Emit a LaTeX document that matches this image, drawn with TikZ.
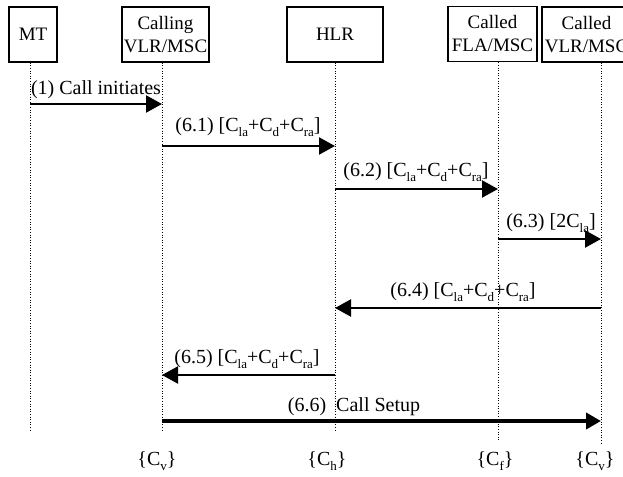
\documentclass[tikz,border=0pt]{standalone}
\usepackage{fontspec}
\setmainfont{Liberation Serif}
\usetikzlibrary{arrows.meta}
% small lowered subscript for cost terms
\newcommand\sbs[1]{\raisebox{-0.22em}{\fontsize{13}{13}\selectfont #1}}
\begin{document}
\begin{tikzpicture}[x=1pt,y=-1pt,
  font=\fontsize{19}{23}\selectfont,
  entity/.style={draw,line width=1.8pt,minimum height=55pt,inner sep=0pt,align=center},
  life/.style={line width=0.8pt,dash pattern=on 1pt off 1.6pt},
  msg/.style={line width=2.2pt,-{Triangle[length=16pt,width=17pt]}},
  bigmsg/.style={line width=4.3pt,-{Triangle[length=15pt,width=16pt]}},
  lbl/.style={font=\fontsize{20}{24}\selectfont,inner sep=0pt},
]
\useasboundingbox (0,0) rectangle (623,476);
\clip (0,0) rectangle (623,476);

% entities
\node[entity,minimum width=48pt] (mt) at (33,34.5) {MT};
\node[entity,minimum width=87pt] (cv) at (165.5,34.5) {Calling\\VLR/MSC};
\node[entity,minimum width=96pt] (hl) at (335,34.5) {HLR};
\node[entity,minimum width=89pt] (fl) at (492.5,34) {Called\\FLA/MSC};
\node[entity,minimum width=89pt] (vl) at (586.5,34.5) {Called\\VLR/MSC};

% lifeline ends
\coordinate (mtEnd) at (30,432);
\coordinate (cvEnd) at (162,431);
\coordinate (hlEnd) at (335,432);
\coordinate (flEnd) at (498,442);
\coordinate (vlEnd) at (601,443);

\draw[life] (mt.south -| mtEnd) -- (mtEnd);
\draw[life] (cv.south -| cvEnd) -- (cvEnd);
\draw[life] (hl.south -| hlEnd) -- (hlEnd);
\draw[life] (fl.south -| flEnd) -- (flEnd);
\draw[life] (vl.south -| vlEnd) -- (vlEnd);

% message end points
\coordinate (m1a) at (30,104);  \coordinate (m1b) at (162,104);
\coordinate (m2a) at (162,146); \coordinate (m2b) at (335,146);
\coordinate (m3a) at (335,189); \coordinate (m3b) at (498,189);
\coordinate (m4a) at (498,239); \coordinate (m4b) at (601,239);
\coordinate (m5a) at (601,308); \coordinate (m5b) at (335,308);
\coordinate (m6a) at (335,375); \coordinate (m6b) at (162,375);
\coordinate (m7a) at (162,421); \coordinate (m7b) at (601,421);

\draw[msg] (m1a) -- (m1b);
\draw[msg] (m2a) -- (m2b);
\draw[msg] (m3a) -- (m3b);
\draw[msg] (m4a) -- (m4b);
\draw[msg] (m5a) -- (m5b);
\draw[msg] (m6a) -- (m6b);
\draw[bigmsg] (m7a) -- (m7b);

% message labels
\node[lbl] (l1) at (96,90) {(1) Call initiates};
\node[lbl] (l2) at (248,127) {(6.1) [C\sbs{la}+C\sbs{d}+C\sbs{ra}]};
\node[lbl] (l3) at (416,172) {(6.2) [C\sbs{la}+C\sbs{d}+C\sbs{ra}]};
\node[lbl] (l4) at (551,223) {(6.3) [2C\sbs{la}]};
\node[lbl] (l5) at (463,292) {(6.4) [C\sbs{la}+C\sbs{d}+C\sbs{ra}]};
\node[lbl] (l6) at (247,359) {(6.5) [C\sbs{la}+C\sbs{d}+C\sbs{ra}]};
\node[lbl] (l7) at (354,407) {(6.6)\ \ Call Setup};

% cost annotations
\node[lbl] (c1) at (157,461) {\{C\sbs{v}\}};
\node[lbl] (c2) at (327,461) {\{C\sbs{h}\}};
\node[lbl] (c3) at (495,461) {\{C\sbs{f}\}};
\node[lbl] (c4) at (595,461) {\{C\sbs{v}\}};
\end{tikzpicture}
\end{document}
